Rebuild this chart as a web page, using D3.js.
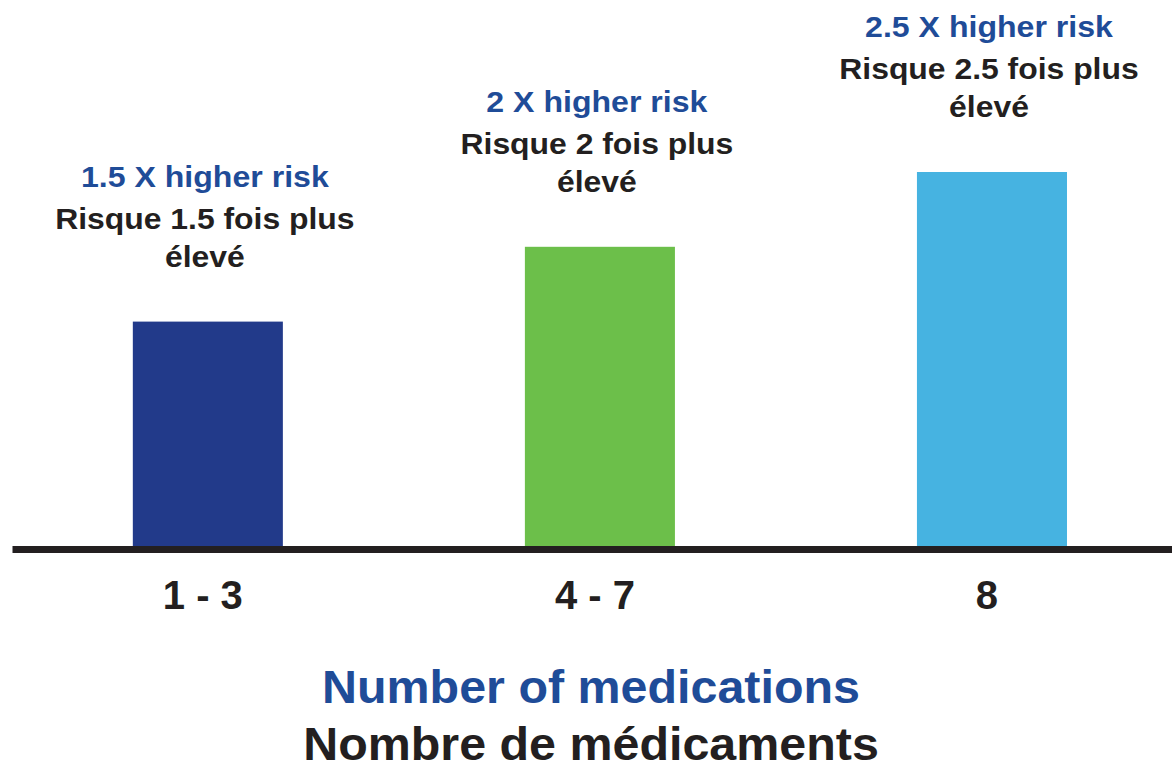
<!DOCTYPE html>
<html>
<head>
<meta charset="utf-8">
<script src="https://cdn.jsdelivr.net/npm/d3@7"></script>
<style>
  html, body { margin: 0; padding: 0; background: #ffffff; }
  svg { display: block; }
  text { font-family: "Liberation Sans", Arial, Helvetica, sans-serif; font-weight: bold; }
</style>
</head>
<body>
<svg id="chart" width="1172" height="765"></svg>
<script>
// Medication count groups and the relative fall risk for each
const categories = ["1 - 3", "4 - 7", "8"];
const riskValues = [1.5, 2, 2.5];
const barColors = ["#223a8a", "#6cbf4a", "#46b3e1"];

// Bilingual annotations (English line, then French on two lines)
const englishLabels = riskValues.map(v => `${v} X higher risk`);
const frenchLine1 = riskValues.map(v => `Risque ${v} fois plus`);
const frenchLine2 = ["élevé", "élevé", "élevé"];

// Axis titles
const titleEnglish = "Number of medications";
const titleFrench = "Nombre de médicaments";

const BLUE_TEXT = "#1f4c98";
const DARK_TEXT = "#231f20";

const baseY = 546;

const svg = d3.select("#chart");

const x = d3.scaleBand()
  .domain(categories)
  .range([12, 1172])
  .paddingInner(0.6173)
  .paddingOuter(0.288)
  .align(0.535);

const y = d3.scaleLinear()
  .domain([0, 2.5])
  .range([baseY, 172]);

const data = categories.map((c, i) => ({
  cat: c,
  value: riskValues[i],
  color: barColors[i],
  en: englishLabels[i],
  fr1: frenchLine1[i],
  fr2: frenchLine2[i]
}));

// Bars
svg.append("g")
  .selectAll("rect")
  .data(data)
  .join("rect")
  .attr("x", d => x(d.cat))
  .attr("y", d => y(d.value))
  .attr("width", x.bandwidth())
  .attr("height", d => y(0) - y(d.value))
  .attr("fill", d => d.color);

// Baseline axis with category labels
const axis = svg.append("g")
  .attr("transform", `translate(0,${baseY + 3})`)
  .call(d3.axisBottom(x).tickSize(0).tickSizeOuter(0));

axis.select(".domain")
  .attr("stroke", DARK_TEXT)
  .attr("stroke-width", 7);

axis.selectAll(".tick text")
  .attr("y", 60)
  .attr("dy", 0)
  .attr("dx", -5)
  .attr("fill", DARK_TEXT)
  .style("font-size", "40px")
  .style("font-family", "'Liberation Sans', Arial, Helvetica, sans-serif")
  .style("font-weight", "bold");

// Annotations above each bar (slightly widened glyphs)
const ann = svg.append("g")
  .selectAll("g")
  .data(data)
  .join("g")
  .attr("transform", d => `translate(${x(d.cat) + x.bandwidth() / 2 - 3},${y(d.value) - 55})`)
  .attr("text-anchor", "middle");

ann.append("text")
  .attr("transform", "translate(0,-80) scale(1.07,1)")
  .attr("fill", BLUE_TEXT)
  .style("font-size", "30px")
  .text(d => d.en);

ann.append("text")
  .attr("transform", "translate(0,-38) scale(1.1,1)")
  .attr("fill", DARK_TEXT)
  .style("font-size", "29px")
  .text(d => d.fr1);

ann.append("text")
  .attr("transform", "scale(1.1,1)")
  .attr("fill", DARK_TEXT)
  .style("font-size", "29px")
  .text(d => d.fr2);

// Axis titles
svg.append("text")
  .attr("transform", "translate(591,703) scale(1.03,1)")
  .attr("text-anchor", "middle")
  .attr("fill", BLUE_TEXT)
  .style("font-size", "47px")
  .text(titleEnglish);

svg.append("text")
  .attr("transform", "translate(591,760) scale(1.03,1)")
  .attr("text-anchor", "middle")
  .attr("fill", DARK_TEXT)
  .style("font-size", "47px")
  .text(titleFrench);
</script>
</body>
</html>
